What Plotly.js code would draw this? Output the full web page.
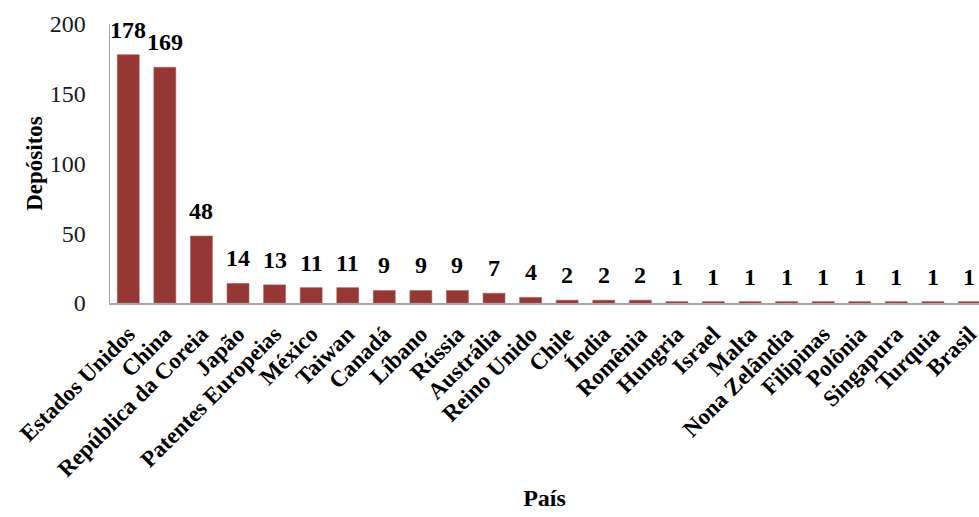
<!DOCTYPE html>
<html>
<head>
<meta charset="utf-8">
<script src="https://cdn.plot.ly/plotly-3.0.1.min.js"></script>
<style>html,body{margin:0;padding:0;background:#fff;}#chart{width:979px;height:517px;}</style>
</head>
<body>
<div id="chart"></div>
<script>
const paises = ["Estados Unidos","China","República da Coreia","Japão","Patentes Europeias","México","Taiwan","Canadá","Líbano","Rússia","Austrália","Reino Unido","Chile","Índia","Romênia","Hungria","Israel","Malta","Nona Zelândia","Filipinas","Polônia","Singapura","Turquia","Brasil"];
const depositos = [178,169,48,14,13,11,11,9,9,9,7,4,2,2,2,1,1,1,1,1,1,1,1,1];
const yTicks = [0,50,100,150,200];

const serif = "Liberation Serif, Times New Roman, serif";

const trace = {
  type: "bar",
  x: paises,
  y: depositos,
  marker: {color: "#953735", line: {color: "#b0605e", width: 0.6}},
  hoverinfo: "x+y"
};

const labels = paises.map((p, i) => ({
  x: p, y: depositos[i], xref: "x", yref: "y",
  text: "<b>" + depositos[i] + "</b>",
  showarrow: false, yanchor: "bottom", yshift: 10,
  font: {family: serif, size: 24, color: "#000"}
}));

const layout = {
  width: 979, height: 517,
  margin: {l: 110, r: 0, t: 24, b: 214},
  paper_bgcolor: "#fff", plot_bgcolor: "#fff",
  bargap: 0.4,
  showlegend: false,
  xaxis: {
    type: "category",
    range: [-0.5, 23.26],
    tickangle: -45,
    tickfont: {family: serif, size: 23, color: "#000", weight: "bold"},
    showline: true, linecolor: "#a6a6a6", linewidth: 1.5,
    ticks: "outside", ticklen: 7, tickcolor: "rgba(0,0,0,0)",
    showgrid: false, zeroline: false,
    automargin: false,
    title: {text: "<b>País</b>", font: {family: serif, size: 24, color: "#000"}, standoff: 8}
  },
  yaxis: {
    range: [0, 200],
    tickvals: yTicks,
    tickfont: {family: serif, size: 24, color: "#1a1a1a"},
    showline: true, linecolor: "#a6a6a6", linewidth: 1.5,
    ticks: "", ticklabelstandoff: 18,
    showgrid: false, zeroline: false,
    automargin: false,
    title: {text: "<b>Depósitos</b>", font: {family: serif, size: 23, color: "#000"}, standoff: 0}
  },
  annotations: labels
};

Plotly.newPlot("chart", [trace], layout, {displayModeBar: false, staticPlot: true});
</script>
</body>
</html>
